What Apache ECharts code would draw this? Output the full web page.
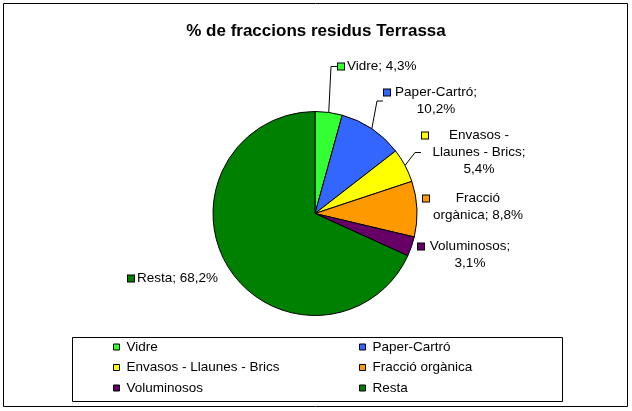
<!DOCTYPE html>
<html>
<head>
<meta charset="utf-8">
<script src="https://cdn.jsdelivr.net/npm/echarts@6/dist/echarts.min.js"></script>
<style>
html,body{margin:0;padding:0;background:#fff;}
#c{width:632px;height:411px;}
</style>
</head>
<body>
<div id="c"></div>
<script>
// ---- data ----
const categories = ['Vidre', 'Paper-Cartró', 'Envasos - Llaunes - Brics', 'Fracció orgànica', 'Voluminosos', 'Resta'];
const values = [4.3, 10.2, 5.4, 8.8, 3.1, 68.2];
const labelLines = [
  ['Vidre; 4,3%'],
  ['Paper-Cartró;', '10,2%'],
  ['Envasos -', 'Llaunes - Brics;', '5,4%'],
  ['Fracció', 'orgànica; 8,8%'],
  ['Voluminosos;', '3,1%'],
  ['Resta; 68,2%']
];
const colors = ['#33FF33', '#3366FF', '#FFFF00', '#FF9900', '#660066', '#008000'];

// ---- styling (positions of label boxes) ----
const FONT = 'Liberation Sans, Arial, sans-serif';
const FS = 13.5;
const labelPos = [[338, 58], [384, 84], [422, 127], [423, 190], [418, 238], [128, 270]];
const blockW = [0, 86, 96, 92, 86, 0];
const showLine = [true, true, true, false, false, false];

const chart = echarts.init(document.getElementById('c'), null, {renderer: 'canvas'});

const data = categories.map((n, i) => ({
  name: n,
  value: values[i],
  itemStyle: {color: colors[i]},
  labelLine: {show: showLine[i]},
  label: {
    formatter: labelLines[i].map((ln, k) =>
      (k === 0 ? '{sq|}' : '{sp|}') + '{g|}' + (blockW[i] ? '{w' + i + '|' + ln + '}' : '{t|' + ln + '}')
    ).join('\n'),
    rich: (() => {
      const r = {
        sq: {width: 6, height: 6, backgroundColor: colors[i], borderColor: '#000', borderWidth: 1},
        sp: {width: 6, height: 6},
        g: {width: 3},
        t: {fontSize: FS, fontFamily: FONT, color: '#000', lineHeight: 17}
      };
      if (blockW[i]) r['w' + i] = {fontSize: FS, fontFamily: FONT, color: '#000', lineHeight: 17, width: blockW[i], align: 'center'};
      return r;
    })()
  }
}));

const leftItems = categories.filter((_, i) => i % 2 === 0);
const rightItems = categories.filter((_, i) => i % 2 === 1);
const legendCommon = {
  orient: 'vertical',
  top: 340,
  itemWidth: 6,
  itemHeight: 6,
  itemGap: 6.5,
  icon: 'rect',
  itemStyle: {borderColor: '#000', borderWidth: 1},
  textStyle: {fontSize: FS, fontFamily: FONT, color: '#000', lineHeight: 14, padding: [0, 0, 0, 2]},
  padding: 0
};

chart.setOption({
  backgroundColor: '#fff',
  animation: false,
  title: {
    text: '% de fraccions residus Terrassa',
    left: 'center',
    top: 18,
    textStyle: {fontSize: 17, fontWeight: 'bold', fontFamily: FONT, color: '#000'}
  },
  legend: [
    Object.assign({}, legendCommon, {left: 113, data: leftItems}),
    Object.assign({}, legendCommon, {left: 359, data: rightItems})
  ],
  graphic: [
    {type: 'rect', shape: {x: 3.5, y: 3.5, width: 624, height: 403}, style: {fill: 'none', stroke: '#000', lineWidth: 1}, silent: true},
    {type: 'rect', shape: {x: 72.5, y: 337.5, width: 490, height: 64}, style: {fill: 'none', stroke: '#000', lineWidth: 1}, silent: true, z: -1}
  ],
  series: [{
    type: 'pie',
    center: [315, 213.5],
    radius: 102,
    startAngle: 90,
    clockwise: true,
    itemStyle: {borderColor: '#000', borderWidth: 1},
    label: {show: true, position: 'outside'},
    labelLine: {show: true, length: 8, length2: 6, lineStyle: {color: '#000', width: 1}},
    labelLayout: function (p) {
      const pos = labelPos[p.dataIndex];
      return {x: pos[0], y: pos[1], align: 'left', verticalAlign: 'top'};
    },
    emphasis: {disabled: true},
    data: data
  }]
});
</script>
</body>
</html>
